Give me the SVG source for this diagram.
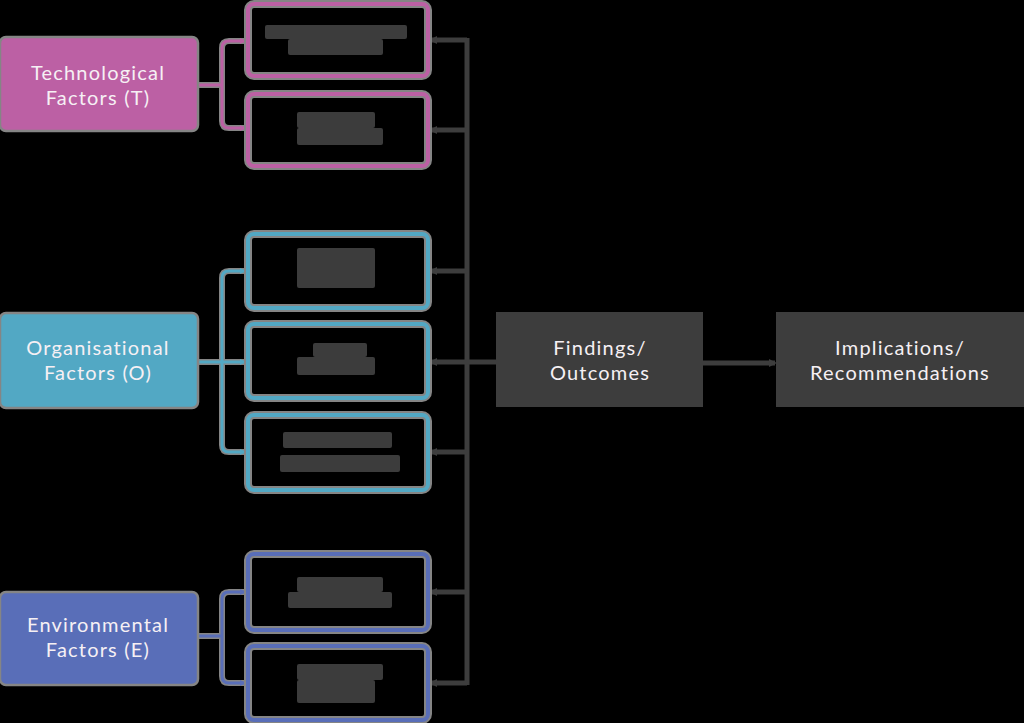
<svg xmlns="http://www.w3.org/2000/svg" width="1024" height="723" viewBox="0 0 1024 723">
<style>
.bg{fill:#000}
.lbl{font-family:Lato,"Open Sans","Liberation Sans",sans-serif;font-size:20px;letter-spacing:1.2px;text-anchor:middle}
.wt{fill:#f6f0f4}
.halo{fill:none;stroke:#858585;stroke-width:8}
.haloline{fill:none;stroke:#858585;stroke-width:6}
.boxT{fill:none;stroke:#bc60a4;stroke-width:4}
.boxO{fill:none;stroke:#52a8c4;stroke-width:4}
.boxE{fill:none;stroke:#596eb8;stroke-width:4}
.lnT{fill:none;stroke:#bc60a4;stroke-width:3}
.lnO{fill:none;stroke:#52a8c4;stroke-width:3}
.lnE{fill:none;stroke:#596eb8;stroke-width:3}
.dk{fill:none;stroke:#3d3d3d;stroke-width:5}
.blob{fill:#3c3c3c}
.dkbox{fill:#3d3d3d}
</style>
<defs>
<marker id="aT" markerWidth="6" markerHeight="6" refX="5" refY="3" orient="auto" markerUnits="userSpaceOnUse"><path d="M0,0 L6,3 L0,6 Z" fill="#bc60a4"/></marker>
<marker id="aO" markerWidth="6" markerHeight="6" refX="5" refY="3" orient="auto" markerUnits="userSpaceOnUse"><path d="M0,0 L6,3 L0,6 Z" fill="#52a8c4"/></marker>
<marker id="aE" markerWidth="6" markerHeight="6" refX="5" refY="3" orient="auto" markerUnits="userSpaceOnUse"><path d="M0,0 L6,3 L0,6 Z" fill="#596eb8"/></marker>
<marker id="aD" markerWidth="8" markerHeight="8" refX="6" refY="4" orient="auto" markerUnits="userSpaceOnUse"><path d="M0,0 L8,4 L0,8 Z" fill="#3d3d3d"/></marker>
</defs>
<rect class="bg" x="0" y="0" width="1024" height="723"/>

<g id="connectors">
  <path class="dk" d="M467,38 V685"/>
  <path class="dk" d="M467,40 H431" marker-end="url(#aD)"/>
  <path class="dk" d="M467,130 H431" marker-end="url(#aD)"/>
  <path class="dk" d="M467,271 H431" marker-end="url(#aD)"/>
  <path class="dk" d="M496,362 H431" marker-end="url(#aD)"/>
  <path class="dk" d="M467,452 H431" marker-end="url(#aD)"/>
  <path class="dk" d="M467,592 H431" marker-end="url(#aD)"/>
  <path class="dk" d="M467,683 H431" marker-end="url(#aD)"/>
  <path class="dk" d="M703,363 H775" marker-end="url(#aD)"/>
  <path class="haloline" d="M198,85 H222 M244,41 H229 Q222,41 222,48 V121 Q222,128 229,128 H244"/>
  <path class="lnT" d="M198,85 H222"/>
  <path class="lnT" d="M222,85 V48 Q222,41 229,41 H245" marker-end="url(#aT)"/>
  <path class="lnT" d="M222,85 V121 Q222,128 229,128 H245" marker-end="url(#aT)"/>
  <path class="haloline" d="M198,362 H244 M244,271 H229 Q222,271 222,278 V445 Q222,452 229,452 H244"/>
  <path class="lnO" d="M198,362 H245" marker-end="url(#aO)"/>
  <path class="lnO" d="M222,362 V278 Q222,271 229,271 H245" marker-end="url(#aO)"/>
  <path class="lnO" d="M222,362 V445 Q222,452 229,452 H245" marker-end="url(#aO)"/>
  <path class="haloline" d="M198,636 H222 M244,592 H229 Q222,592 222,599 V676 Q222,683 229,683 H244"/>
  <path class="lnE" d="M198,636 H222"/>
  <path class="lnE" d="M222,636 V599 Q222,592 229,592 H245" marker-end="url(#aE)"/>
  <path class="lnE" d="M222,636 V676 Q222,683 229,683 H245" marker-end="url(#aE)"/>
</g>

<g id="factor-T">
  <rect x="0" y="37" width="198" height="94" rx="6" fill="#bc60a4" stroke="#858585" stroke-width="2.5"/>
  <text class="lbl wt" x="98" y="80">Technological</text>
  <text class="lbl wt" x="98" y="105">Factors (T)</text>
</g>
<g id="factor-O">
  <rect x="0" y="313" width="198" height="95" rx="6" fill="#52a8c4" stroke="#858585" stroke-width="2.5"/>
  <text class="lbl wt" x="98" y="355">Organisational</text>
  <text class="lbl wt" x="98" y="380">Factors (O)</text>
</g>
<g id="factor-E">
  <rect x="0" y="592" width="198" height="93" rx="6" fill="#596eb8" stroke="#858585" stroke-width="2.5"/>
  <text class="lbl wt" x="98" y="632">Environmental</text>
  <text class="lbl wt" x="98" y="657">Factors (E)</text>
</g>

<g id="T1">
  <rect class="halo" x="248" y="4" width="180" height="72" rx="6"/>
  <rect class="boxT" x="248" y="4" width="180" height="72" rx="6"/>
  <rect class="blob" x="265" y="25" width="142" height="14" rx="2"/>
  <rect class="blob" x="288" y="39" width="95" height="16" rx="2"/>
</g>
<g id="T2">
  <rect class="halo" x="248" y="94" width="180" height="72" rx="6"/>
  <rect class="boxT" x="248" y="94" width="180" height="72" rx="6"/>
  <rect class="blob" x="297" y="112" width="78" height="16" rx="2"/>
  <rect class="blob" x="297" y="128" width="86" height="17" rx="2"/>
</g>
<g id="O1">
  <rect class="halo" x="248" y="234" width="180" height="74" rx="6"/>
  <rect class="boxO" x="248" y="234" width="180" height="74" rx="6"/>
  <rect class="blob" x="297" y="248" width="78" height="40" rx="2"/>
</g>
<g id="O2">
  <rect class="halo" x="248" y="324" width="180" height="74" rx="6"/>
  <rect class="boxO" x="248" y="324" width="180" height="74" rx="6"/>
  <rect class="blob" x="313" y="343" width="54" height="14" rx="2"/>
  <rect class="blob" x="297" y="357" width="78" height="18" rx="2"/>
</g>
<g id="O3">
  <rect class="halo" x="248" y="415" width="180" height="75" rx="6"/>
  <rect class="boxO" x="248" y="415" width="180" height="75" rx="6"/>
  <rect class="blob" x="283" y="432" width="109" height="16" rx="2"/>
  <rect class="blob" x="280" y="455" width="120" height="17" rx="2"/>
</g>
<g id="E1">
  <rect class="halo" x="248" y="554" width="180" height="76" rx="6"/>
  <rect class="boxE" x="248" y="554" width="180" height="76" rx="6"/>
  <rect class="blob" x="297" y="577" width="86" height="15" rx="2"/>
  <rect class="blob" x="288" y="592" width="104" height="16" rx="2"/>
</g>
<g id="E2">
  <rect class="halo" x="248" y="646" width="180" height="74" rx="6"/>
  <rect class="boxE" x="248" y="646" width="180" height="74" rx="6"/>
  <rect class="blob" x="297" y="664" width="86" height="16" rx="2"/>
  <rect class="blob" x="297" y="680" width="78" height="23" rx="2"/>
</g>

<g id="findings">
  <rect class="dkbox" x="496" y="312" width="207" height="95"/>
  <text class="lbl wt" x="600" y="355">Findings/</text>
  <text class="lbl wt" x="600" y="380">Outcomes</text>
</g>
<g id="implications">
  <rect class="dkbox" x="776" y="312" width="248" height="95"/>
  <text class="lbl wt" x="900" y="355">Implications/</text>
  <text class="lbl wt" x="900" y="380">Recommendations</text>
</g>
</svg>
